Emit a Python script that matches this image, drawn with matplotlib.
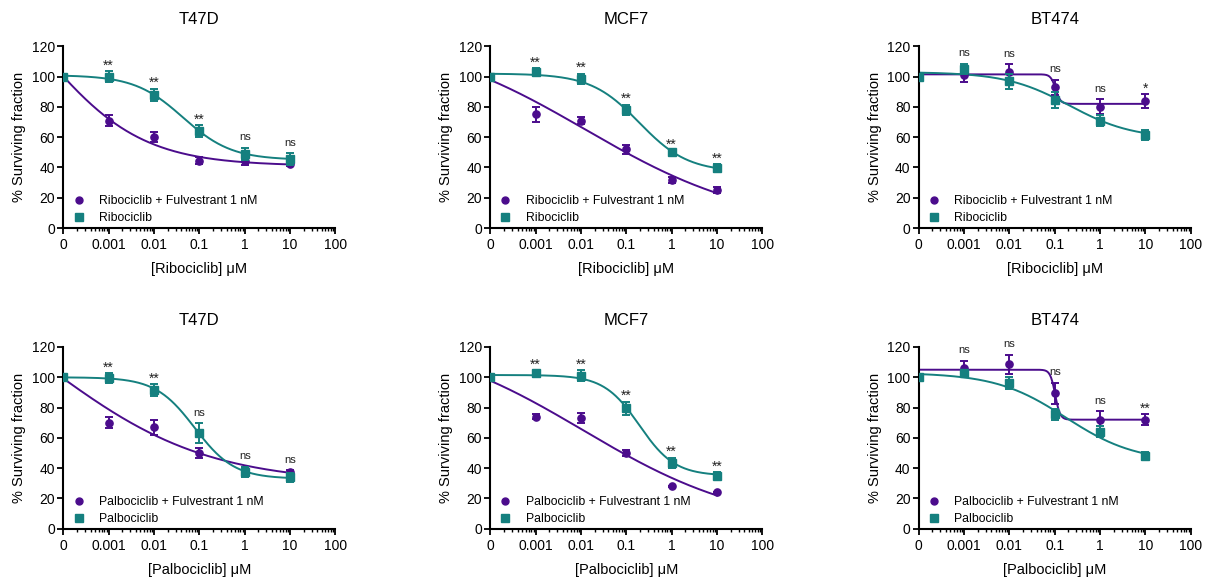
import numpy as np
import matplotlib
matplotlib.use('Agg')
from matplotlib import pyplot as plt
from matplotlib.lines import Line2D
from matplotlib.ticker import FixedLocator, FixedFormatter, LogLocator, NullFormatter

plt.rcParams['font.family'] = ['Liberation Sans', 'DejaVu Sans']

PURPLE = '#4b0c8c'
TEAL = '#15807f'

# doses in uM, the 0 dose is drawn one decade below 0.001 (like prism does)
doses = [0, 0.001, 0.01, 0.1, 1, 10]
tick_pos = [1e-4, 1e-3, 1e-2, 1e-1, 1, 10, 100]
tick_labels = ['0', '0.001', '0.01', '0.1', '1', '10', '100']

# ---- ribociclib row ----
t47d_rib_combo = [100, 71, 60, 44.5, 44, 42]
t47d_rib_combo_err = [0, 3.5, 3.5, 2.5, 2.5, 1.0]
t47d_rib_single = [100, 100, 88, 64, 49, 45.5]
t47d_rib_single_err = [0, 3.5, 4, 4, 4, 4]
t47d_rib_stars = ['**', '**', '**', 'ns', 'ns']
# fit params: top, bottom, log ec50, hill slope
t47d_rib_combo_fit = (188, 41, -4.43, 0.4)
t47d_rib_single_fit = (101, 45, -1.36, 0.81)

mcf7_rib_combo = [100, 75, 71, 52, 31.5, 25]
mcf7_rib_combo_err = [0, 5, 2, 3, 2, 2]
mcf7_rib_single = [100, 103, 98.5, 78, 50.5, 39.5]
mcf7_rib_single_err = [0, 2.5, 3.5, 3.5, 1, 2.5]
mcf7_rib_stars = ['**', '**', '**', '**', '**']
mcf7_rib_combo_fit = (130, 0, -1.9, 0.23)
mcf7_rib_single_fit = (102, 37, -0.71, 0.81)

bt474_rib_combo = [100, 101, 103, 93, 80, 84]
bt474_rib_combo_err = [0, 4.5, 5, 5, 5, 4.5]
bt474_rib_single = [100, 105, 97, 84.5, 71, 61.5]
bt474_rib_single_err = [0, 3.5, 5, 5.5, 3.5, 3.5]
bt474_rib_stars = ['ns', 'ns', 'ns', 'ns', '*']
bt474_rib_combo_fit = (101.5, 82, -0.98, 8)
bt474_rib_single_fit = (103, 59, -0.68, 0.62)

# ---- palbociclib row ----
t47d_palbo_combo = [100, 70, 67, 50, 39, 37.5]
t47d_palbo_combo_err = [0, 3.5, 5, 3, 2, 1]
t47d_palbo_single = [100, 99.5, 91.5, 63, 37.5, 34]
t47d_palbo_single_err = [0, 3, 4, 6.5, 3.5, 3]
t47d_palbo_stars = ['**', '**', 'ns', 'ns', 'ns']
t47d_palbo_combo_fit = (180, 30, -4.27, 0.25)
t47d_palbo_single_fit = (100, 33, -1.1, 1.0)

mcf7_palbo_combo = [100, 74, 73, 50, 28, 24]
mcf7_palbo_combo_err = [0, 1.5, 3.5, 2, 0.5, 0.5]
mcf7_palbo_single = [100, 102.5, 101, 79.5, 43.5, 35]
mcf7_palbo_single_err = [0, 2, 3.5, 4.5, 3.5, 2.5]
mcf7_palbo_stars = ['**', '**', '**', '**', '**']
mcf7_palbo_combo_fit = (130, 0, -1.95, 0.235)
mcf7_palbo_single_fit = (101.5, 35, -0.71, 1.11)

bt474_palbo_combo = [100, 106, 108.5, 89.5, 71.5, 72]
bt474_palbo_combo_err = [0, 5, 6.5, 7, 6, 3.5]
bt474_palbo_single = [100, 103, 96, 75.5, 64, 48]
bt474_palbo_single_err = [0, 2, 4, 3.5, 3.5, 2.5]
bt474_palbo_stars = ['ns', 'ns', 'ns', 'ns', '**']
bt474_palbo_combo_fit = (105, 72, -0.99, 8)
bt474_palbo_single_fit = (103, 44, -0.76, 0.56)

# text offsets above the highest error bar, and sizes
star_offset = {'ns': 4.8, '**': 1.0, '*': 1.0}
star_size = {'ns': 8, '**': 10, '*': 10}


def four_pl(x, top, bottom, logc, hill):
	return bottom + (top - bottom) / (1 + 10 ** ((np.log10(x) - logc) * hill))


def draw_panel(ax, title, drug, combo, combo_err, single, single_err, combo_fit, single_fit, stars):
	x = [tick_pos[0] if d == 0 else d for d in doses]
	xs = np.logspace(-4, 1, 400)

	# fitted curves
	ax.plot(xs, four_pl(xs, *combo_fit), color=PURPLE, lw=1.4, zorder=2)
	ax.plot(xs, four_pl(xs, *single_fit), color=TEAL, lw=1.4, zorder=2)

	# points + sem
	ax.errorbar(x[1:], combo[1:], yerr=combo_err[1:], fmt='none', ecolor=PURPLE,
				elinewidth=1.4, capsize=3, capthick=1.4, zorder=3)
	ax.plot(x, combo, 'o', color=PURPLE, ms=5.2, zorder=3)
	ax.errorbar(x[1:], single[1:], yerr=single_err[1:], fmt='none', ecolor=TEAL,
				elinewidth=1.4, capsize=3, capthick=1.4, zorder=4)
	ax.plot(x, single, 's', color=TEAL, ms=5.8, zorder=4)

	for i in range(1, len(doses)):
		top = max(combo[i] + combo_err[i], single[i] + single_err[i])
		lab = stars[i - 1]
		ax.text(x[i], top + star_offset[lab], lab, ha='center', va='baseline',
				fontsize=star_size[lab], color='#222222')

	ax.set_xscale('log')
	ax.set_xlim(1e-4, 100)
	ax.set_ylim(0, 120)
	ax.xaxis.set_major_locator(FixedLocator(tick_pos))
	ax.xaxis.set_major_formatter(FixedFormatter(tick_labels))
	ax.xaxis.set_minor_locator(LogLocator(base=10, subs=np.arange(2, 10)))
	ax.xaxis.set_minor_formatter(NullFormatter())
	ax.set_yticks(np.arange(0, 121, 20))

	for s in ['top', 'right']:
		ax.spines[s].set_visible(False)
	for s in ['left', 'bottom']:
		ax.spines[s].set_linewidth(1.5)

	ax.tick_params(which='major', direction='out', length=4, width=1.3, labelsize=10, pad=2)
	ax.tick_params(axis='x', which='major', pad=3.5)
	ax.tick_params(which='minor', direction='out', length=2.2, width=1)

	ax.set_title(title, fontsize=12, pad=16)
	ax.set_xlabel('[%s] μM' % drug, fontsize=10.5, labelpad=7)
	ax.set_ylabel('% Surviving fraction', fontsize=10.5, labelpad=4)

	handles = [Line2D([], [], marker='o', color=PURPLE, ls='none', ms=5),
			   Line2D([], [], marker='s', color=TEAL, ls='none', ms=5.5)]
	ax.legend(handles, ['%s + Fulvestrant 1 nM' % drug, drug], loc='lower left',
			  bbox_to_anchor=(0.02, 0), frameon=False, fontsize=8.8, handlelength=1.0,
			  handletextpad=1.16, borderpad=0.3, labelspacing=0.42, borderaxespad=0)


def main():
	fig = plt.figure(figsize=(12.09, 5.79), dpi=100, facecolor='w')

	lefts = [0.0524, 0.4055, 0.7599]
	bottoms = [0.6062, 0.0869]
	w, h = 0.225, 0.3138

	rib = [
		('T47D', t47d_rib_combo, t47d_rib_combo_err, t47d_rib_single, t47d_rib_single_err,
			t47d_rib_combo_fit, t47d_rib_single_fit, t47d_rib_stars),
		('MCF7', mcf7_rib_combo, mcf7_rib_combo_err, mcf7_rib_single, mcf7_rib_single_err,
			mcf7_rib_combo_fit, mcf7_rib_single_fit, mcf7_rib_stars),
		('BT474', bt474_rib_combo, bt474_rib_combo_err, bt474_rib_single, bt474_rib_single_err,
			bt474_rib_combo_fit, bt474_rib_single_fit, bt474_rib_stars),
	]
	palbo = [
		('T47D', t47d_palbo_combo, t47d_palbo_combo_err, t47d_palbo_single, t47d_palbo_single_err,
			t47d_palbo_combo_fit, t47d_palbo_single_fit, t47d_palbo_stars),
		('MCF7', mcf7_palbo_combo, mcf7_palbo_combo_err, mcf7_palbo_single, mcf7_palbo_single_err,
			mcf7_palbo_combo_fit, mcf7_palbo_single_fit, mcf7_palbo_stars),
		('BT474', bt474_palbo_combo, bt474_palbo_combo_err, bt474_palbo_single, bt474_palbo_single_err,
			bt474_palbo_combo_fit, bt474_palbo_single_fit, bt474_palbo_stars),
	]

	for row, (drug, panels) in enumerate([('Ribociclib', rib), ('Palbociclib', palbo)]):
		for col, p in enumerate(panels):
			ax = fig.add_axes([lefts[col], bottoms[row], w, h])
			draw_panel(ax, p[0], drug, *p[1:])

	fig.savefig('out.png', dpi=100)


if __name__ == '__main__':
	main()
